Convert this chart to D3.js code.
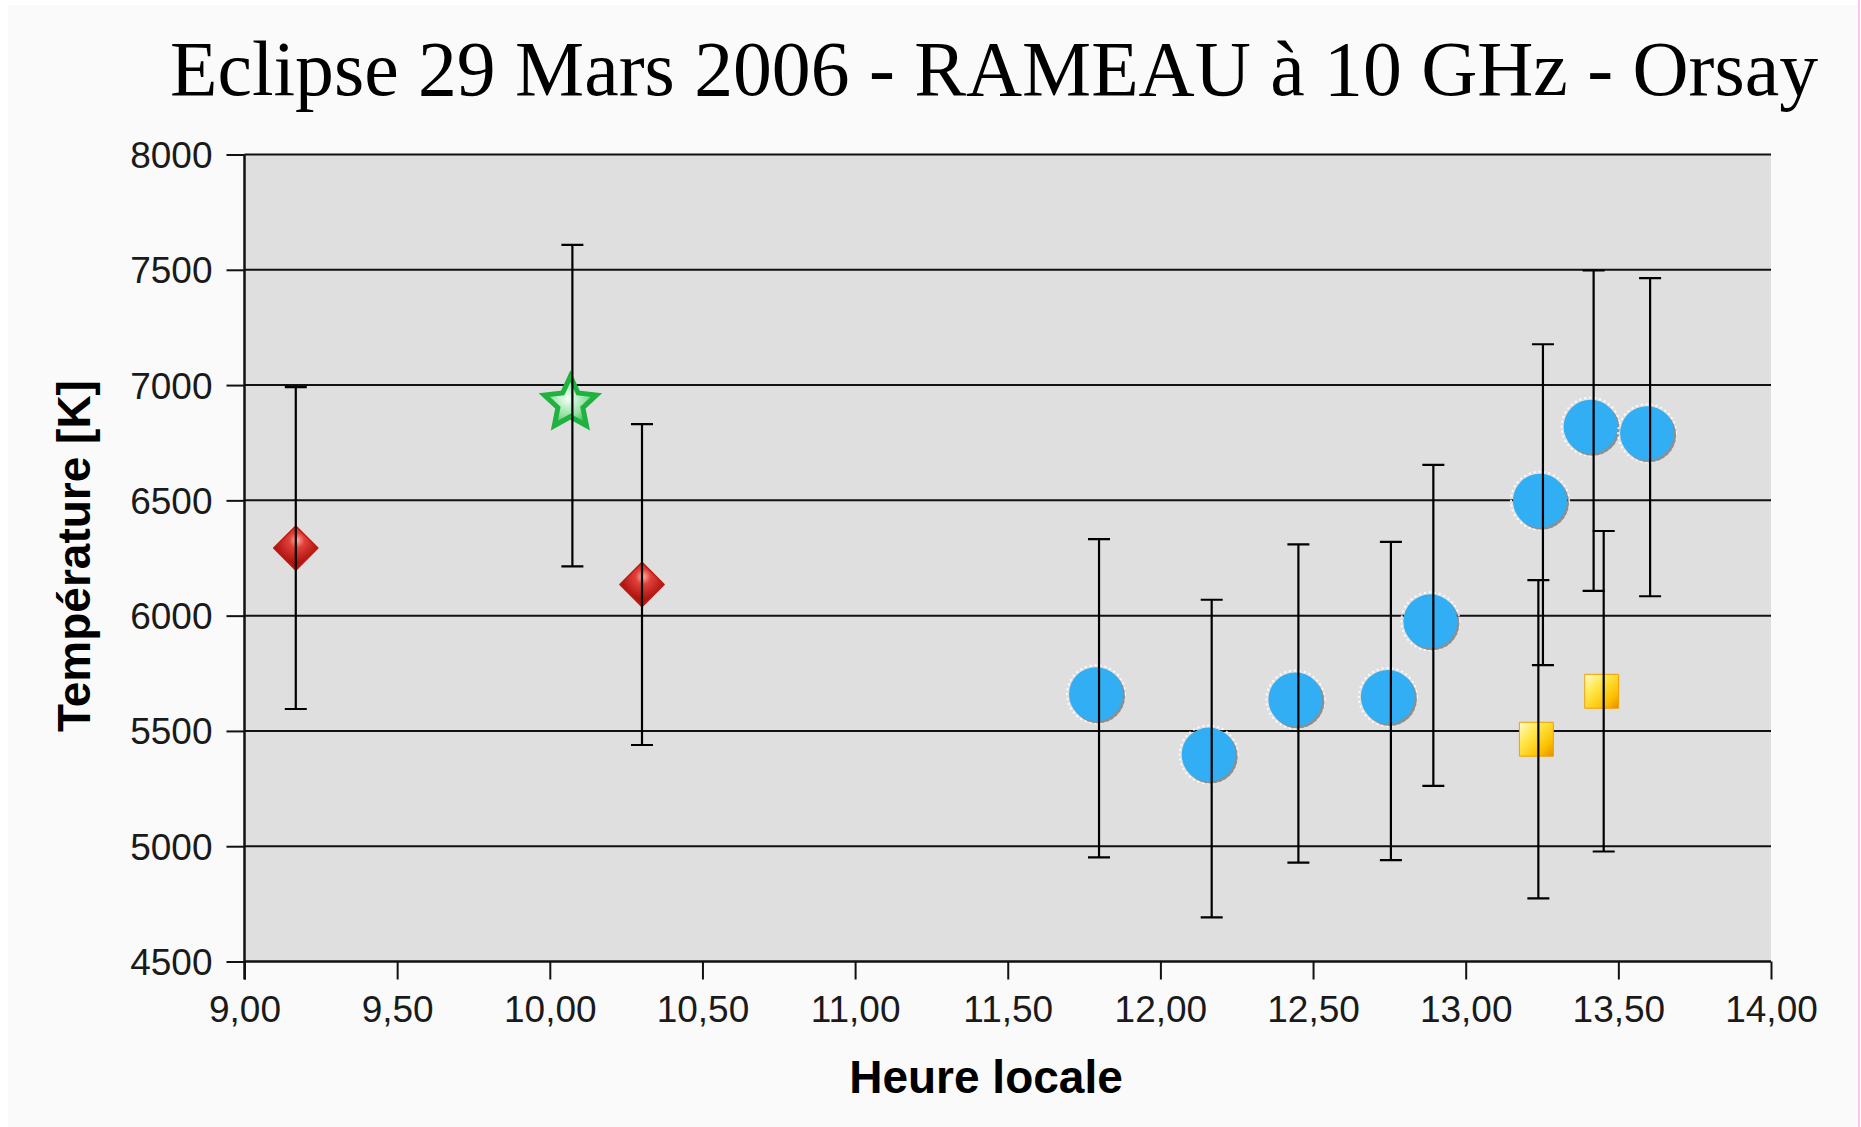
<!DOCTYPE html>
<html>
<head>
<meta charset="utf-8">
<script src="https://cdn.jsdelivr.net/npm/d3@7/dist/d3.min.js"></script>
<style>
  html, body { margin: 0; padding: 0; background: #ffffff; }
  svg { display: block; }
</style>
</head>
<body>
<svg id="chart" width="1861" height="1127"></svg>
<script>
// ---------- data ----------
const chartTitle = "Eclipse 29 Mars 2006 - RAMEAU à 10 GHz - Orsay";
const xAxisTitle = "Heure locale";
const yAxisTitle = "Température [K]";

const xTicks = [9, 9.5, 10, 10.5, 11, 11.5, 12, 12.5, 13, 13.5, 14];
const yTicks = [4500, 5000, 5500, 6000, 6500, 7000, 7500, 8000];

// red diamonds
const redTimes = [9.168, 10.302];
const redTemps = [6293, 6135];
const redErr   = [698, 696];
// green star
const greenTimes = [10.074];
const greenTemps = [6911];
const greenErr   = [697];
// blue circles
const blueTimes = [11.799, 12.168, 12.452, 12.755, 12.894, 13.253, 13.419, 13.604];
const blueTemps = [5642, 5380, 5619, 5630, 5958, 6481, 6802, 6774];
const blueErr   = [690, 689, 690, 690, 696, 696, 695, 690];
// yellow squares
const yellowTimes = [13.238, 13.452];
const yellowTemps = [5464, 5672];
const yellowErr   = [690, 695];

// ---------- layout ----------
const W = 1861, H = 1127;
const plot = { left: 244.5, right: 1771, top: 154.5, bottom: 961.5 };

const svg = d3.select("#chart");
const defs = svg.append("defs");

// background
svg.append("rect").attr("x", 0).attr("y", 0).attr("width", W).attr("height", H).attr("fill", "#ffffff");
svg.append("rect").attr("x", 8).attr("y", 5).attr("width", 1850).attr("height", H - 5).attr("fill", "#fafafa");
svg.append("rect").attr("x", 1858).attr("y", 0).attr("width", 2).attr("height", H).attr("fill", "#f7c6f7");

const x = d3.scaleLinear().domain([9, 14]).range([plot.left, plot.right]);
const y = d3.scaleLinear().domain([4500, 8000]).range([plot.bottom, plot.top]);

// plot area
svg.append("rect")
  .attr("x", plot.left).attr("y", plot.top)
  .attr("width", plot.right - plot.left).attr("height", plot.bottom - plot.top)
  .attr("fill", "#dfdfdf");

// gridlines
svg.append("g")
  .selectAll("line").data(yTicks.filter(v => v > 4500)).join("line")
  .attr("x1", plot.left).attr("x2", plot.right)
  .attr("y1", d => y(d)).attr("y2", d => y(d))
  .attr("stroke", "#111").attr("stroke-width", 2);

// axes
const fmtX = d => d3.format(".2f")(d).replace(".", ",");
const yAxis = d3.axisLeft(y).tickValues(yTicks).tickSize(18).tickPadding(14).tickFormat(d3.format("d"));
const xAxis = d3.axisBottom(x).tickValues(xTicks).tickSize(18).tickPadding(16).tickFormat(fmtX);

const gy = svg.append("g").attr("transform", `translate(${plot.left},0)`).call(yAxis);
const gx = svg.append("g").attr("transform", `translate(0,${plot.bottom})`).call(xAxis);

[gy, gx].forEach(g => {
  g.select(".domain").attr("stroke", "#111").attr("stroke-width", 2.5);
  g.selectAll(".tick line").attr("stroke", "#111").attr("stroke-width", 2);
  g.selectAll(".tick text")
    .attr("fill", "#1a1a1a")
    .style("font-family", "'Liberation Sans', Arial, sans-serif")
    .style("font-size", "37px");
});
gy.select(".domain").attr("d", `M0,${plot.top}V${plot.bottom + 18}`);
gx.select(".domain").attr("d", `M${plot.left},0H${plot.right}`);
gy.selectAll(".tick text").attr("dy", "0.35em");
gx.selectAll(".tick text").attr("dy", "0.71em");

// titles
svg.append("text")
  .attr("x", 170).attr("y", 95)
  .attr("textLength", 1648).attr("lengthAdjust", "spacingAndGlyphs")
  .style("font-family", "'Liberation Serif', 'DejaVu Serif', serif")
  .style("font-size", "78px")
  .attr("fill", "#000")
  .text(chartTitle);

svg.append("text")
  .attr("x", 986).attr("y", 1093).attr("text-anchor", "middle")
  .style("font-family", "'Liberation Sans', Arial, sans-serif")
  .style("font-size", "46px").style("font-weight", "bold")
  .attr("fill", "#000")
  .text(xAxisTitle);

svg.append("text")
  .attr("transform", "translate(90,556) rotate(-90)")
  .attr("text-anchor", "middle")
  .style("font-family", "'Liberation Sans', Arial, sans-serif")
  .style("font-size", "46px").style("font-weight", "bold")
  .attr("fill", "#000")
  .text(yAxisTitle);

// ---------- gradients ----------
const redGrad = defs.append("radialGradient").attr("id", "gRed")
  .attr("cx", "35%").attr("cy", "30%").attr("r", "70%");
redGrad.append("stop").attr("offset", "0%").attr("stop-color", "#ffb0a8");
redGrad.append("stop").attr("offset", "35%").attr("stop-color", "#e0403a");
redGrad.append("stop").attr("offset", "100%").attr("stop-color", "#b01510");

const yelGrad = defs.append("linearGradient").attr("id", "gYel")
  .attr("x1", "0%").attr("y1", "0%").attr("x2", "100%").attr("y2", "100%");
yelGrad.append("stop").attr("offset", "0%").attr("stop-color", "#fffbd0");
yelGrad.append("stop").attr("offset", "35%").attr("stop-color", "#ffe84a");
yelGrad.append("stop").attr("offset", "75%").attr("stop-color", "#fcc000");
yelGrad.append("stop").attr("offset", "100%").attr("stop-color", "#e88a00");

const grnGrad = defs.append("radialGradient").attr("id", "gGrn")
  .attr("cx", "45%").attr("cy", "45%").attr("r", "60%");
grnGrad.append("stop").attr("offset", "0%").attr("stop-color", "#f4fff6");
grnGrad.append("stop").attr("offset", "60%").attr("stop-color", "#8fe0a0");
grnGrad.append("stop").attr("offset", "100%").attr("stop-color", "#20b040");

// ---------- helpers ----------
const toPts = (ts, vs, es) => ts.map((t, i) => ({ t, v: vs[i], e: es[i] }));
const red = toPts(redTimes, redTemps, redErr);
const green = toPts(greenTimes, greenTemps, greenErr);
const blue = toPts(blueTimes, blueTemps, blueErr);
const yellow = toPts(yellowTimes, yellowTemps, yellowErr);

// custom fat five-pointed star symbol
const fatStar = {
  draw(ctx, size) {
    const R = Math.sqrt(size / 1.2), r = R * 0.48;
    for (let i = 0; i < 10; i++) {
      const a = -Math.PI / 2 + i * Math.PI / 5;
      const rr = i % 2 === 0 ? R : r;
      const px = Math.cos(a) * rr, py = Math.sin(a) * rr;
      if (i === 0) ctx.moveTo(px, py); else ctx.lineTo(px, py);
    }
    ctx.closePath();
  }
};

const markers = svg.append("g");

// blue circles (glossy bitmap look: halo + shadow toward bottom-right)
const bg = markers.selectAll("g.blue").data(blue).join("g")
  .attr("class", "blue")
  .attr("transform", d => `translate(${x(d.t) - 3},${y(d.v) - 4})`);
bg.append("circle").attr("r", 29).attr("fill", "none")
  .attr("stroke", "#ffffff").attr("stroke-width", 2).attr("stroke-dasharray", "2 3").attr("opacity", 0.9);
bg.append("circle").attr("cx", 2).attr("cy", 2).attr("r", 27).attr("fill", "#6a6a6a").attr("opacity", 0.7);
bg.append("circle").attr("r", 27).attr("fill", "#31aef4");

// red diamonds
markers.selectAll("path.red").data(red).join("path")
  .attr("class", "red")
  .attr("transform", d => `translate(${x(d.t)},${y(d.v)}) rotate(45)`)
  .attr("d", d3.symbol(d3.symbolSquare, 980)())
  .attr("fill", "url(#gRed)")
  .attr("stroke", "#c01a14").attr("stroke-width", 1.5).attr("stroke-linejoin", "round");

// green star
markers.selectAll("path.green").data(green).join("path")
  .attr("class", "green")
  .attr("transform", d => `translate(${x(d.t) - 2},${y(d.v) - 2})`)
  .attr("d", d3.symbol(fatStar, 900)())
  .attr("fill", "url(#gGrn)")
  .attr("stroke", "#1fb23e").attr("stroke-width", 5).attr("stroke-linejoin", "miter");

// yellow squares
markers.selectAll("path.yellow").data(yellow).join("path")
  .attr("class", "yellow")
  .attr("transform", d => `translate(${x(d.t) - 2},${y(d.v)})`)
  .attr("d", d3.symbol(d3.symbolSquare, 1150)())
  .attr("fill", "url(#gYel)")
  .attr("stroke", "#f0a000").attr("stroke-width", 1);

// ---------- error bars (drawn on top of markers) ----------
const allPts = [...red, ...green, ...blue, ...yellow];
const cap = 11;
const eb = svg.append("g").attr("stroke", "#000").attr("stroke-width", 2.2).attr("fill", "none");
eb.selectAll("path").data(allPts).join("path")
  .attr("d", d => {
    const cx = x(d.t), y1 = y(d.v + d.e), y0 = y(d.v - d.e);
    return `M${cx},${y1}V${y0}M${cx - cap},${y1}H${cx + cap}M${cx - cap},${y0}H${cx + cap}`;
  });
</script>
</body>
</html>
